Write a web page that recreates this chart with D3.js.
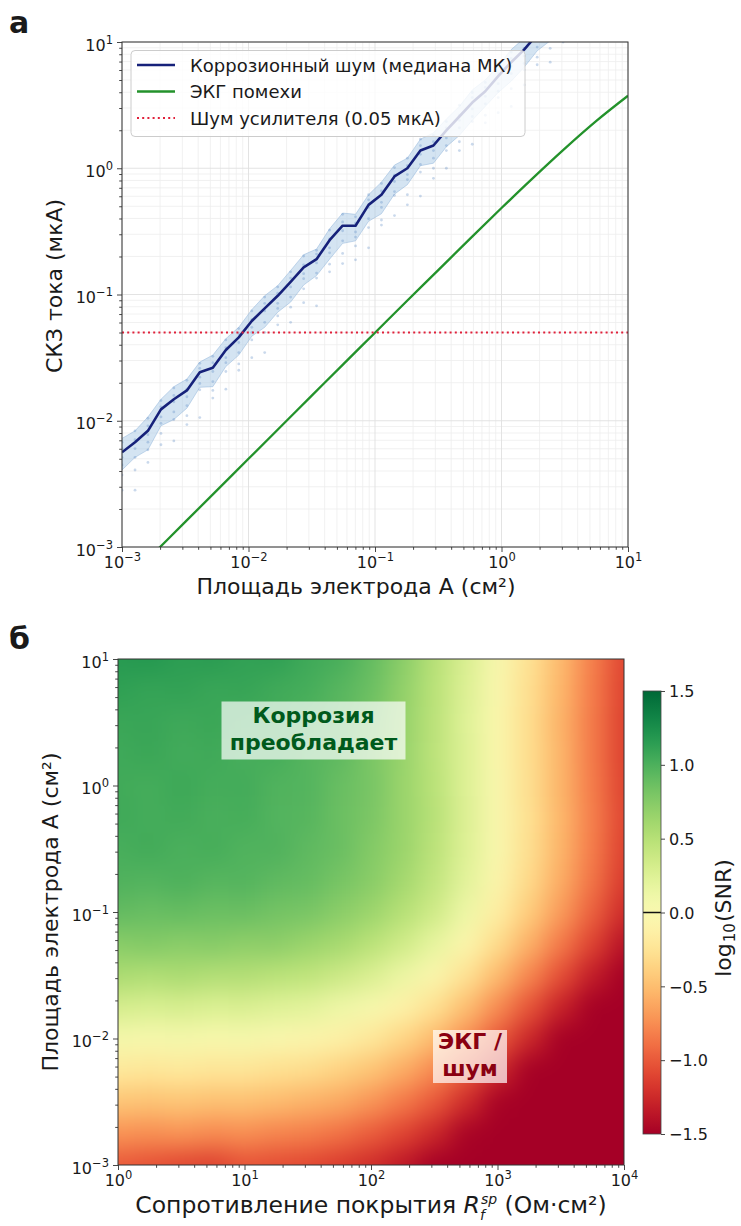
<!DOCTYPE html>
<html>
<head>
<meta charset="utf-8">
<script src="https://cdn.jsdelivr.net/npm/d3@7"></script>
<style>
  body { margin: 0; background: #fff; }
  svg text { font-family: "DejaVu Sans", sans-serif; fill: #1a1a1a; }
</style>
</head>
<body>
<svg id="fig" width="741" height="1226"></svg>
<script>
// ---------- panel а: RMS current vs electrode area ----------
// electrode area samples, log10(cm²)
const areaLog10 = [-3, -2.897, -2.795, -2.692, -2.590, -2.487, -2.385, -2.282, -2.179, -2.077,
  -1.974, -1.872, -1.769, -1.667, -1.564, -1.462, -1.359, -1.256, -1.154, -1.051,
  -0.949, -0.846, -0.744, -0.641, -0.538, -0.436, -0.333, -0.231, -0.128, -0.026,
  0.077, 0.179, 0.282, 0.385, 0.487, 0.590, 0.692, 0.795, 0.897, 1.0];
// corrosion noise, Monte-Carlo median, log10(µA)
const corrMedianLog10 = [-2.25, -2.17, -2.08, -1.91, -1.83, -1.76, -1.615, -1.58, -1.44, -1.34,
  -1.21, -1.11, -1.01, -0.90, -0.785, -0.72, -0.57, -0.455, -0.455, -0.29,
  -0.21, -0.065, 0.0, 0.14, 0.18, 0.30, 0.41, 0.52, 0.61, 0.73,
  0.84, 0.94, 1.06, 1.15, 1.27, 1.37, 1.47, 1.58, 1.69, 1.79];
// upper / lower envelope of the Monte-Carlo runs, log10(µA)
const corrHiLog10 = [-2.14, -2.08, -1.97, -1.83, -1.73, -1.67, -1.535, -1.48, -1.35, -1.26,
  -1.12, -1.01, -0.93, -0.81, -0.685, -0.64, -0.48, -0.355, -0.365, -0.21,
  -0.11, 0.025, 0.08, 0.23, 0.28, 0.39, 0.49, 0.62, 0.70, 0.81,
  0.94, 1.03, 1.14, 1.24, 1.36, 1.46, 1.56, 1.67, 1.78, 1.88];
const corrLoLog10 = [-2.39, -2.29, -2.23, -2.04, -1.99, -1.90, -1.735, -1.73, -1.57, -1.48,
  -1.33, -1.26, -1.14, -1.06, -0.925, -0.85, -0.72, -0.595, -0.575, -0.42,
  -0.36, -0.205, -0.13, 0.02, 0.04, 0.17, 0.26, 0.38, 0.49, 0.60,
  0.69, 0.80, 0.93, 1.01, 1.13, 1.24, 1.33, 1.45, 1.55, 1.66];
// individual Monte-Carlo runs, deviation from the median in decades
const mcRunOffsets = [
  [0.08, 0.03, -0.04, -0.10, -0.18, -0.30], [0.09, 0.02, -0.05, -0.12, -0.22, -0.38],
  [0.10, 0.04, -0.03, -0.09, -0.15, -0.25], [0.07, 0.02, -0.06, -0.11, -0.19, -0.28],
  [0.09, 0.03, -0.02, -0.10, -0.16, -0.33], [0.08, 0.01, -0.05, -0.12, -0.20, -0.27],
  [0.07, 0.03, -0.04, -0.09, -0.14, -0.36], [0.09, 0.04, -0.03, -0.11, -0.18, -0.24],
  [0.08, 0.02, -0.06, -0.10, -0.17, -0.31], [0.07, 0.03, -0.04, -0.12, -0.21, -0.26],
  [0.08, 0.01, -0.05, -0.09, -0.15, -0.29], [0.09, 0.04, -0.02, -0.11, -0.19, -0.35],
  [0.07, 0.02, -0.06, -0.10, -0.16, -0.23], [0.08, 0.03, -0.04, -0.12, -0.20, -0.32],
  [0.09, 0.02, -0.05, -0.09, -0.17, -0.28], [0.07, 0.04, -0.03, -0.11, -0.15, -0.37],
  [0.08, 0.01, -0.06, -0.10, -0.19, -0.25], [0.09, 0.03, -0.04, -0.12, -0.22, -0.30],
  [0.07, 0.02, -0.05, -0.09, -0.16, -0.27], [0.08, 0.04, -0.02, -0.11, -0.18, -0.34],
  [0.09, 0.03, -0.06, -0.10, -0.20, -0.24], [0.07, 0.01, -0.04, -0.12, -0.15, -0.31],
  [0.08, 0.02, -0.05, -0.09, -0.21, -0.29], [0.09, 0.04, -0.03, -0.11, -0.17, -0.36],
  [0.08, 0.03, -0.04, -0.10, -0.18, -0.26], [0.07, 0.02, -0.06, -0.12, -0.16, -0.30],
  [0.09, 0.01, -0.03, -0.09, -0.20, -0.27], [0.08, 0.04, -0.05, -0.11, -0.15, -0.33],
  [0.07, 0.03, -0.04, -0.10, -0.19, -0.25], [0.09, 0.02, -0.06, -0.12, -0.17, -0.29],
  [0.08, 0.03, -0.03, -0.09, -0.21, -0.35], [0.07, 0.01, -0.05, -0.11, -0.16, -0.28],
  [0.09, 0.04, -0.04, -0.10, -0.18, -0.24], [0.08, 0.02, -0.06, -0.12, -0.20, -0.31],
  [0.07, 0.03, -0.03, -0.09, -0.15, -0.27], [0.09, 0.01, -0.05, -0.11, -0.19, -0.34],
  [0.08, 0.04, -0.04, -0.10, -0.17, -0.26], [0.07, 0.02, -0.06, -0.12, -0.21, -0.30],
  [0.09, 0.03, -0.03, -0.09, -0.16, -0.28], [0.08, 0.02, -0.05, -0.11, -0.18, -0.32]
];
// ECG interference current
const ecgAreaLog10 = [-3, -2.75, -2.5, -2.25, -2, -1.75, -1.5, -1.25, -1, -0.75, -0.5, -0.25, 0, 0.25, 0.5, 0.75, 1];
const ecgCurrent = [0.0005, 0.000889, 0.00158, 0.00281, 0.0050, 0.00889, 0.0158, 0.0281, 0.0498,
  0.0884, 0.156, 0.276, 0.484, 0.839, 1.43, 2.37, 3.75];
// amplifier noise floor, µA
const ampNoise = 0.05;
const legendLabels = ["Коррозионный шум (медиана МК)", "ЭКГ помехи", "Шум усилителя (0.05 мкА)"];

// ---------- panel б: log10(SNR) map ----------
const rfLog10 = [0, 0.25, 0.5, 0.75, 1, 1.25, 1.5, 1.75, 2, 2.25, 2.5, 2.75, 3, 3.25, 3.5, 3.75, 4];
const mapAreaLog10 = [1, 0.75, 0.5, 0.25, 0, -0.25, -0.5, -0.75, -1, -1.25, -1.5, -1.75, -2, -2.25, -2.5, -2.75, -3];
const snrLog10 = [
  [1.17, 1.19, 1.14, 1.16, 1.12, 1.13, 1.06, 1.02, 0.90, 0.73, 0.49, 0.28, 0.01, -0.26, -0.52, -0.82, -1.10],
  [1.13, 1.10, 1.12, 1.08, 1.10, 1.05, 1.03, 0.95, 0.87, 0.69, 0.48, 0.26, -0.01, -0.28, -0.54, -0.83, -1.11],
  [1.08, 1.09, 1.06, 1.08, 1.04, 1.05, 0.98, 0.94, 0.82, 0.67, 0.47, 0.24, -0.02, -0.29, -0.56, -0.84, -1.12],
  [1.06, 1.08, 1.04, 1.06, 1.02, 1.03, 0.96, 0.92, 0.80, 0.66, 0.46, 0.25, -0.02, -0.29, -0.55, -0.84, -1.12],
  [1.05, 1.03, 1.07, 1.03, 1.04, 0.98, 0.97, 0.88, 0.81, 0.65, 0.48, 0.25, -0.01, -0.28, -0.55, -0.83, -1.11],
  [1.06, 1.03, 1.05, 1.01, 1.03, 0.97, 0.96, 0.87, 0.80, 0.65, 0.49, 0.26, 0.00, -0.27, -0.54, -0.82, -1.10],
  [1.02, 1.05, 1.00, 1.03, 0.98, 0.99, 0.92, 0.88, 0.76, 0.65, 0.47, 0.25, -0.01, -0.28, -0.55, -0.83, -1.12],
  [0.99, 0.97, 1.00, 0.96, 0.97, 0.92, 0.90, 0.82, 0.74, 0.60, 0.43, 0.21, -0.05, -0.32, -0.59, -0.87, -1.16],
  [0.91, 0.88, 0.90, 0.87, 0.88, 0.83, 0.81, 0.73, 0.64, 0.50, 0.35, 0.12, -0.14, -0.41, -0.68, -0.96, -1.24],
  [0.74, 0.77, 0.73, 0.75, 0.71, 0.72, 0.65, 0.59, 0.48, 0.35, 0.18, -0.04, -0.30, -0.57, -0.84, -1.11, -1.39],
  [0.56, 0.53, 0.56, 0.52, 0.52, 0.48, 0.45, 0.37, 0.28, 0.14, -0.03, -0.25, -0.51, -0.78, -1.05, -1.32, -1.60],
  [0.31, 0.29, 0.30, 0.27, 0.28, 0.24, 0.21, 0.12, 0.04, -0.10, -0.26, -0.49, -0.75, -1.02, -1.29, -1.56, -1.84],
  [0.05, 0.03, 0.05, 0.02, 0.03, -0.01, -0.05, -0.12, -0.21, -0.34, -0.51, -0.73, -0.99, -1.26, -1.53, -1.80, -2.08],
  [-0.20, -0.22, -0.20, -0.23, -0.23, -0.27, -0.30, -0.37, -0.46, -0.59, -0.76, -0.98, -1.24, -1.51, -1.78, -2.05, -2.33],
  [-0.45, -0.47, -0.45, -0.48, -0.48, -0.51, -0.56, -0.61, -0.71, -0.84, -1.00, -1.23, -1.49, -1.76, -2.03, -2.30, -2.58],
  [-0.72, -0.74, -0.72, -0.76, -0.74, -0.79, -0.82, -0.88, -0.98, -1.10, -1.26, -1.48, -1.74, -2.01, -2.28, -2.55, -2.83],
  [-1.00, -1.04, -1.09, -1.12, -1.03, -1.06, -1.09, -1.15, -1.23, -1.35, -1.50, -1.73, -1.99, -2.26, -2.53, -2.80, -3.08]
];
const colorbarTicks = [1.5, 1.0, 0.5, 0.0, -0.5, -1.0, -1.5];

// ---------- helpers ----------
const svg = d3.select("#fig");
const defs = svg.append("defs");
const pow10 = e => Math.pow(10, e);
const minus = s => s.replace("-", "\u2212");

function decadeTicks(lo, hi) {
  const major = [], minor = [];
  for (let e = lo; e <= hi; e++) {
    major.push(pow10(e));
    if (e < hi) for (let k = 2; k <= 9; k++) minor.push(k * pow10(e));
  }
  return { major, minor };
}

// "10" with a raised exponent
function powerLabels(g) {
  g.selectAll(".tick text").each(function (d) {
    const t = d3.select(this);
    const e = Math.round(Math.log10(d));
    t.text(null);
    t.append("tspan").text("10");
    t.append("tspan").attr("dy", -7).attr("font-size", 11.5).text(minus(String(e)));
  });
}

function styleAxis(g) {
  g.select(".domain").remove();
  g.selectAll(".tick line").attr("stroke", "#333").attr("stroke-width", 0.9);
  g.selectAll(".tick text").attr("font-size", 16).attr("fill", "#1a1a1a")
    .attr("font-family", '"DejaVu Sans", sans-serif');
}

function logAxes(root, xs, ys, box, xDec, yDec) {
  const xt = decadeTicks(xDec[0], xDec[1]);
  const yt = decadeTicks(yDec[0], yDec[1]);
  const gxm = root.append("g").attr("transform", `translate(0,${box.y1})`)
    .call(d3.axisBottom(xs).tickValues(xt.minor).tickSize(2.8).tickSizeOuter(0).tickFormat(""));
  styleAxis(gxm);
  const gx = root.append("g").attr("transform", `translate(0,${box.y1})`)
    .call(d3.axisBottom(xs).tickValues(xt.major).tickSize(5).tickPadding(5).tickSizeOuter(0));
  styleAxis(gx); powerLabels(gx);
  const gym = root.append("g").attr("transform", `translate(${box.x0},0)`)
    .call(d3.axisLeft(ys).tickValues(yt.minor).tickSize(2.8).tickSizeOuter(0).tickFormat(""));
  styleAxis(gym);
  const gy = root.append("g").attr("transform", `translate(${box.x0},0)`)
    .call(d3.axisLeft(ys).tickValues(yt.major).tickSize(5).tickPadding(4).tickSizeOuter(0));
  styleAxis(gy); powerLabels(gy);
  gy.selectAll(".tick text").attr("dy", "0.5em");
  root.append("rect").attr("x", box.x0).attr("y", box.y0)
    .attr("width", box.x1 - box.x0).attr("height", box.y1 - box.y0)
    .attr("fill", "none").attr("stroke", "#333").attr("stroke-width", 1);
}

// ================= panel а =================
const boxA = { x0: 122, x1: 628, y0: 42, y1: 547 };
const xA = d3.scaleLog().domain([1e-3, 1e1]).range([boxA.x0, boxA.x1]);
const yA = d3.scaleLog().domain([1e-3, 1e1]).range([boxA.y1, boxA.y0]);
const gA = svg.append("g");

defs.append("clipPath").attr("id", "clipA").append("rect")
  .attr("x", boxA.x0).attr("y", boxA.y0)
  .attr("width", boxA.x1 - boxA.x0).attr("height", boxA.y1 - boxA.y0);

// grid (major and minor decades)
{
  const xt = decadeTicks(-3, 1), yt = decadeTicks(-3, 1);
  const grid = gA.append("g");
  grid.selectAll("line.vm").data(xt.minor).join("line")
    .attr("x1", d => xA(d)).attr("x2", d => xA(d)).attr("y1", boxA.y0).attr("y2", boxA.y1)
    .attr("stroke", "#eeeeee").attr("stroke-width", 0.8);
  grid.selectAll("line.hm").data(yt.minor).join("line")
    .attr("y1", d => yA(d)).attr("y2", d => yA(d)).attr("x1", boxA.x0).attr("x2", boxA.x1)
    .attr("stroke", "#eeeeee").attr("stroke-width", 0.8);
  grid.selectAll("line.vM").data(xt.major).join("line")
    .attr("x1", d => xA(d)).attr("x2", d => xA(d)).attr("y1", boxA.y0).attr("y2", boxA.y1)
    .attr("stroke", "#e0e0e0").attr("stroke-width", 0.9);
  grid.selectAll("line.hM").data(yt.major).join("line")
    .attr("y1", d => yA(d)).attr("y2", d => yA(d)).attr("x1", boxA.x0).attr("x2", boxA.x1)
    .attr("stroke", "#e0e0e0").attr("stroke-width", 0.9);
}

const plotA = gA.append("g").attr("clip-path", "url(#clipA)");

// Monte-Carlo spread band
const bandData = areaLog10.map((a, i) => ({ a, lo: corrLoLog10[i], hi: corrHiLog10[i] }));
plotA.append("path").datum(bandData)
  .attr("d", d3.area().x(d => xA(pow10(d.a))).y0(d => yA(pow10(d.lo))).y1(d => yA(pow10(d.hi))))
  .attr("fill", "#a9c9e6").attr("fill-opacity", 0.5)
  .attr("stroke", "#8fb4da").attr("stroke-width", 0.7).attr("stroke-opacity", 0.7);

// individual runs
const runPts = [];
areaLog10.forEach((a, i) => mcRunOffsets[i].forEach(o => runPts.push({ a, v: corrMedianLog10[i] + o })));
plotA.append("g").selectAll("circle").data(runPts).join("circle")
  .attr("cx", d => xA(pow10(d.a))).attr("cy", d => yA(pow10(d.v))).attr("r", 1.4)
  .attr("fill", "#4f80c0").attr("fill-opacity", 0.3);

// median corrosion noise
plotA.append("path").datum(areaLog10.map((a, i) => [a, corrMedianLog10[i]]))
  .attr("d", d3.line().x(d => xA(pow10(d[0]))).y(d => yA(pow10(d[1]))))
  .attr("fill", "none").attr("stroke", "#16217a").attr("stroke-width", 2.6).attr("stroke-linejoin", "round");

// ECG interference
plotA.append("path").datum(ecgAreaLog10.map((a, i) => [a, ecgCurrent[i]]))
  .attr("d", d3.line().curve(d3.curveMonotoneX).x(d => xA(pow10(d[0]))).y(d => yA(d[1])))
  .attr("fill", "none").attr("stroke", "#23922b").attr("stroke-width", 2.3);

// amplifier noise floor
plotA.append("line")
  .attr("x1", boxA.x0).attr("x2", boxA.x1).attr("y1", yA(ampNoise)).attr("y2", yA(ampNoise))
  .attr("stroke", "#e0203a").attr("stroke-width", 2).attr("stroke-dasharray", "2,3.2");

logAxes(gA, xA, yA, boxA, [-3, 1], [-3, 1]);

// legend
{
  const lg = gA.append("g");
  lg.append("rect").attr("x", 131).attr("y", 50.5).attr("width", 394).attr("height", 86).attr("rx", 4)
    .attr("fill", "#fff").attr("fill-opacity", 0.8).attr("stroke", "#cccccc").attr("stroke-width", 1);
  const rows = [
    { y: 65, stroke: "#16217a", dash: null, w: 2.6 },
    { y: 91.5, stroke: "#23922b", dash: null, w: 2.3 },
    { y: 118, stroke: "#e0203a", dash: "2,3.2", w: 2 }
  ];
  rows.forEach((r, i) => {
    lg.append("line").attr("x1", 137).attr("x2", 175).attr("y1", r.y).attr("y2", r.y)
      .attr("stroke", r.stroke).attr("stroke-width", r.w).attr("stroke-dasharray", r.dash);
    lg.append("text").attr("x", 190).attr("y", r.y + 6.5).attr("font-size", 18).text(legendLabels[i]);
  });
}

// labels
gA.append("text").attr("x", 356).attr("y", 594).attr("text-anchor", "middle").attr("font-size", 22)
  .text("Площадь электрода A (см²)");
gA.append("text").attr("transform", "translate(62,286) rotate(-90)").attr("text-anchor", "middle")
  .attr("font-size", 22).text("СКЗ тока (мкА)");
gA.append("text").attr("x", 9).attr("y", 33).attr("font-size", 30).attr("font-weight", "bold").text("а");

// ================= panel б =================
const boxB = { x0: 118, x1: 624, y0: 659, y1: 1165 };
const xB = d3.scaleLog().domain([1, 1e4]).range([boxB.x0, boxB.x1]);
const yB = d3.scaleLog().domain([1e-3, 1e1]).range([boxB.y1, boxB.y0]);
const color = d3.scaleSequential(d3.interpolateRdYlGn).domain([-1.5, 1.5]).clamp(true);
const gB = svg.append("g");

defs.append("clipPath").attr("id", "clipB").append("rect")
  .attr("x", boxB.x0).attr("y", boxB.y0)
  .attr("width", boxB.x1 - boxB.x0).attr("height", boxB.y1 - boxB.y0);
// two softening passes keep the map smooth without blocky seams
const soft = defs.append("filter").attr("id", "soften").attr("filterUnits", "userSpaceOnUse")
  .attr("x", 30).attr("y", 580).attr("width", 680).attr("height", 660)
  .attr("color-interpolation-filters", "sRGB");
soft.append("feGaussianBlur").attr("stdDeviation", 9).attr("result", "b1");
soft.append("feGaussianBlur").attr("in", "b1").attr("stdDeviation", 9);

// map cells: half a step around every sample, outer cells stretched past the frame
const half = 0.125, pad = 0.5;
const cells = [];
snrLog10.forEach((row, r) => row.forEach((v, c) => {
  const rf = rfLog10[c], a = mapAreaLog10[r];
  cells.push({
    v,
    xl: rf - half - (c === 0 ? pad : 0),
    xr: rf + half + (c === rfLog10.length - 1 ? pad : 0),
    yt: a + half + (r === 0 ? pad : 0),
    yb: a - half - (r === mapAreaLog10.length - 1 ? pad : 0)
  });
}));
gB.append("g").attr("clip-path", "url(#clipB)")
  .append("g").attr("filter", "url(#soften)")
  .selectAll("rect").data(cells).join("rect")
  .attr("x", d => xB(pow10(d.xl)))
  .attr("y", d => yB(pow10(d.yt)))
  .attr("width", d => xB(pow10(d.xr)) - xB(pow10(d.xl)) + 0.6)
  .attr("height", d => yB(pow10(d.yb)) - yB(pow10(d.yt)) + 0.6)
  .attr("fill", d => color(d.v));

logAxes(gB, xB, yB, boxB, [0, 4], [-3, 1]);

// region annotations
function note(cx, y1, lines, box, fill) {
  gB.append("rect").attr("x", box[0]).attr("y", box[1]).attr("width", box[2]).attr("height", box[3])
    .attr("fill", "#fff").attr("fill-opacity", 0.7);
  const t = gB.append("text").attr("text-anchor", "middle").attr("font-size", 22)
    .attr("font-weight", "bold").style("fill", fill);
  lines.forEach((s, i) => t.append("tspan").attr("x", cx).attr("y", y1 + i * 27).text(s));
}
note(313.5, 723, ["Коррозия", "преобладает"], [221.5, 701.5, 184, 58], "#005a1c");
note(470, 1049, ["ЭКГ /", "шум"], [433, 1030, 74, 53], "#8a0011");

// axis labels
{
  const xl = gB.append("text").attr("x", 371).attr("y", 1213).attr("text-anchor", "middle")
    .attr("font-size", 23.5);
  xl.append("tspan").text("Сопротивление покрытия ");
  xl.append("tspan").attr("font-style", "italic").text("R");
  xl.append("tspan").attr("font-style", "italic").attr("font-size", 14).attr("dy", 7).text("f");
  xl.append("tspan").attr("font-style", "italic").attr("font-size", 14).attr("dx", -4).attr("dy", -16).text("sp");
  xl.append("tspan").attr("dy", 9).text(" (Ом·см²)");
}
gB.append("text").attr("transform", "translate(58,912) rotate(-90)").attr("text-anchor", "middle")
  .attr("font-size", 22).text("Площадь электрода A (см²)");
gB.append("text").attr("x", 9).attr("y", 649).attr("font-size", 30).attr("font-weight", "bold").text("б");

// colorbar
{
  const cb = { x0: 643, x1: 661, y0: 691, y1: 1134 };
  const yC = d3.scaleLinear().domain([-1.5, 1.5]).range([cb.y1, cb.y0]);
  const grad = defs.append("linearGradient").attr("id", "cbGrad")
    .attr("x1", 0).attr("y1", 1).attr("x2", 0).attr("y2", 0);
  d3.range(0, 1.0001, 0.02).forEach(t => grad.append("stop")
    .attr("offset", t).attr("stop-color", color(-1.5 + 3 * t)));
  gB.append("rect").attr("x", cb.x0).attr("y", cb.y0).attr("width", cb.x1 - cb.x0).attr("height", cb.y1 - cb.y0)
    .attr("fill", "url(#cbGrad)");
  gB.append("line").attr("x1", cb.x0).attr("x2", cb.x1).attr("y1", yC(0)).attr("y2", yC(0))
    .attr("stroke", "#111").attr("stroke-width", 1.5);
  gB.append("rect").attr("x", cb.x0).attr("y", cb.y0).attr("width", cb.x1 - cb.x0).attr("height", cb.y1 - cb.y0)
    .attr("fill", "none").attr("stroke", "#444").attr("stroke-width", 0.8);
  const ga = gB.append("g").attr("transform", `translate(${cb.x1},0)`)
    .call(d3.axisRight(yC).tickValues(colorbarTicks).tickSize(4).tickPadding(4)
      .tickFormat(d => minus(d3.format(".1f")(d))));
  styleAxis(ga);
  ga.selectAll(".tick text").attr("dy", "0.36em");
  // log10 with a lowered index
  const cl = gB.append("text").attr("transform", "translate(731,918) rotate(-90)").attr("text-anchor", "middle")
    .attr("font-size", 22);
  cl.append("tspan").text("log");
  cl.append("tspan").attr("font-size", 15).attr("dy", 4).attr("dx", 1).text("10");
  cl.append("tspan").attr("dy", -4).attr("dx", 1).text("(SNR)");
}
</script>
</body>
</html>
